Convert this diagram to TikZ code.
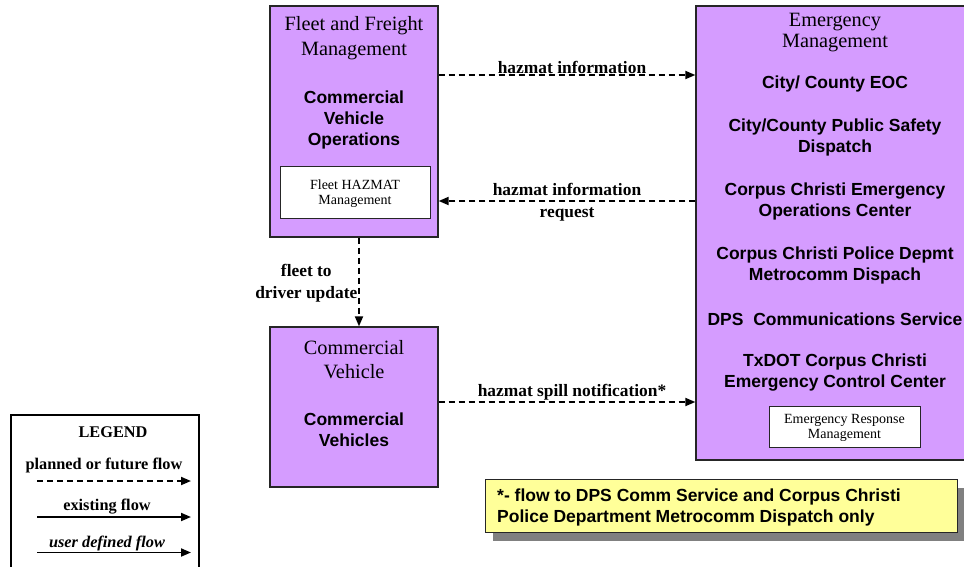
\documentclass[tikz,border=0pt]{standalone}
\usepackage{fontspec}
\setmainfont{Liberation Serif}
\newfontfamily\arial{Liberation Sans}
\usetikzlibrary{arrows.meta}
\definecolor{boxpurple}{RGB}{213,156,255}
\definecolor{noteyellow}{RGB}{255,255,153}
\definecolor{shadowgray}{RGB}{128,128,128}
\begin{document}
\begin{tikzpicture}[x=1pt,y=-1pt,
  pbox/.style={draw=black!85,line width=1.3pt,fill=boxpurple,inner sep=0pt},
  wbox/.style={draw=black!85,line width=1pt,fill=white,inner sep=0pt},
  ttl/.style={align=center,font=\fontsize{20.3}{24.5}\selectfont,inner sep=0pt},
  bsans/.style={align=center,font=\arial\bfseries\fontsize{17.5}{21}\selectfont,inner sep=0pt},
  small/.style={align=center,font=\fontsize{14}{15.5}\selectfont,inner sep=0pt},
  flab/.style={align=center,font=\bfseries\fontsize{17.4}{22}\selectfont,inner sep=0pt},
  flow/.style={line width=1.8pt,dash pattern=on 6pt off 4pt,-{Triangle[length=10pt,width=8pt]}},
  solidflow/.style={line width=1.8pt,-{Triangle[length=10pt,width=8pt]}},
  lgd/.style={font=\bfseries\fontsize{16.3}{18}\selectfont,inner sep=0pt}]
\useasboundingbox (0,0) rectangle (964,566);
\clip (0,0) rectangle (964,566);

% Fleet and Freight Management
\node[pbox,minimum width=168,minimum height=231] (ffm) at (354,121.5) {};
\node[ttl] (ffmt) at (354,38) {Fleet and Freight\\Management};
\node[bsans] (cvo) at (354,119.5) {Commercial\\Vehicle\\Operations};
\node[wbox,minimum width=150,minimum height=52] (fhm) at (355,192) {};
\node[small] (fhmt) at (355,193.5) {Fleet HAZMAT\\Management};

% Commercial Vehicle
\node[pbox,minimum width=168,minimum height=160] (cv) at (354,407) {};
\node[ttl] (cvt) at (354,359.5) {Commercial\\Vehicle};
\node[bsans] (cvs) at (354,430) {Commercial\\Vehicles};

% Emergency Management
\node[pbox,minimum width=278,minimum height=454] (em) at (835,233) {};
\node[ttl,font=\fontsize{20.3}{21}\selectfont] (emt) at (835,32.5) {Emergency\\Management};
\node[bsans] (e1) at (835,84) {City/ County EOC};
\node[bsans] (e2) at (835,137) {City/County Public Safety\\Dispatch};
\node[bsans] (e3) at (835,201) {Corpus Christi Emergency\\Operations Center};
\node[bsans] (e4) at (835,265.5) {Corpus Christi Police Depmt\\Metrocomm Dispach};
\node[bsans] (e5) at (835,319) {DPS\ \ Communications Service};
\node[bsans] (e6) at (835,372.5) {TxDOT Corpus Christi\\Emergency Control Center};
\node[wbox,minimum width=151,minimum height=41] (erm) at (844.5,426.5) {};
\node[small,font=\fontsize{14}{15}\selectfont] (ermt) at (844.5,427.5) {Emergency Response\\Management};

% flows
\coordinate (y1) at (0,75);
\coordinate (y2) at (0,201);
\coordinate (y3) at (0,402);
\draw[flow] (ffm.east |- y1) -- (em.west |- y1);
\node[flab] (l1) at (572,67.5) {hazmat information};
\draw[flow] (em.west |- y2) -- (ffm.east |- y2);
\node[flab] (l2) at (567,202.5) {hazmat information\\request};
\draw[flow] (ffm.south -| 359,0) -- (cv.north -| 359,0);
\node[flab,align=center,anchor=east] (l3) at (357.5,283) {fleet to\\driver update};
\draw[flow] (cv.east |- y3) -- (em.west |- y3);
\node[flab] (l4) at (572,392.5) {hazmat spill notification*};

% note
\fill[shadowgray] (493,488) rectangle (965,541);
\node[draw=black!85,line width=1pt,fill=noteyellow,minimum width=472,minimum height=53,inner sep=0pt] (note) at (721,505.5) {};
\node[font=\arial\bfseries\fontsize{17.5}{21}\selectfont,align=left,anchor=west,inner sep=0pt] (notet) at (497,507) {*- flow to DPS Comm Service and Corpus Christi\\Police Department Metrocomm Dispatch only};

% legend
\node[draw=black,line width=1.3pt,fill=white,minimum width=188,minimum height=160,inner sep=0pt] (leg) at (105,495) {};
\node[lgd] (legt) at (113,432) {LEGEND};
\node[lgd] (lg1) at (104,465) {planned or future flow};
\coordinate (a1) at (37,481);
\coordinate (b1) at (191,481);
\draw[flow] (a1) -- (b1);
\node[lgd] (lg2) at (107,506.5) {existing flow};
\coordinate (a2) at (37,517);
\coordinate (b2) at (191,517);
\draw[solidflow] (a2) -- (b2);
\node[lgd,font=\bfseries\itshape\fontsize{16.3}{18}\selectfont] (lg3) at (107,543) {user defined flow};
\coordinate (a3) at (37,552.5);
\coordinate (b3) at (191,552.5);
\draw[solidflow] (a3) -- (b3);
\end{tikzpicture}
\end{document}
